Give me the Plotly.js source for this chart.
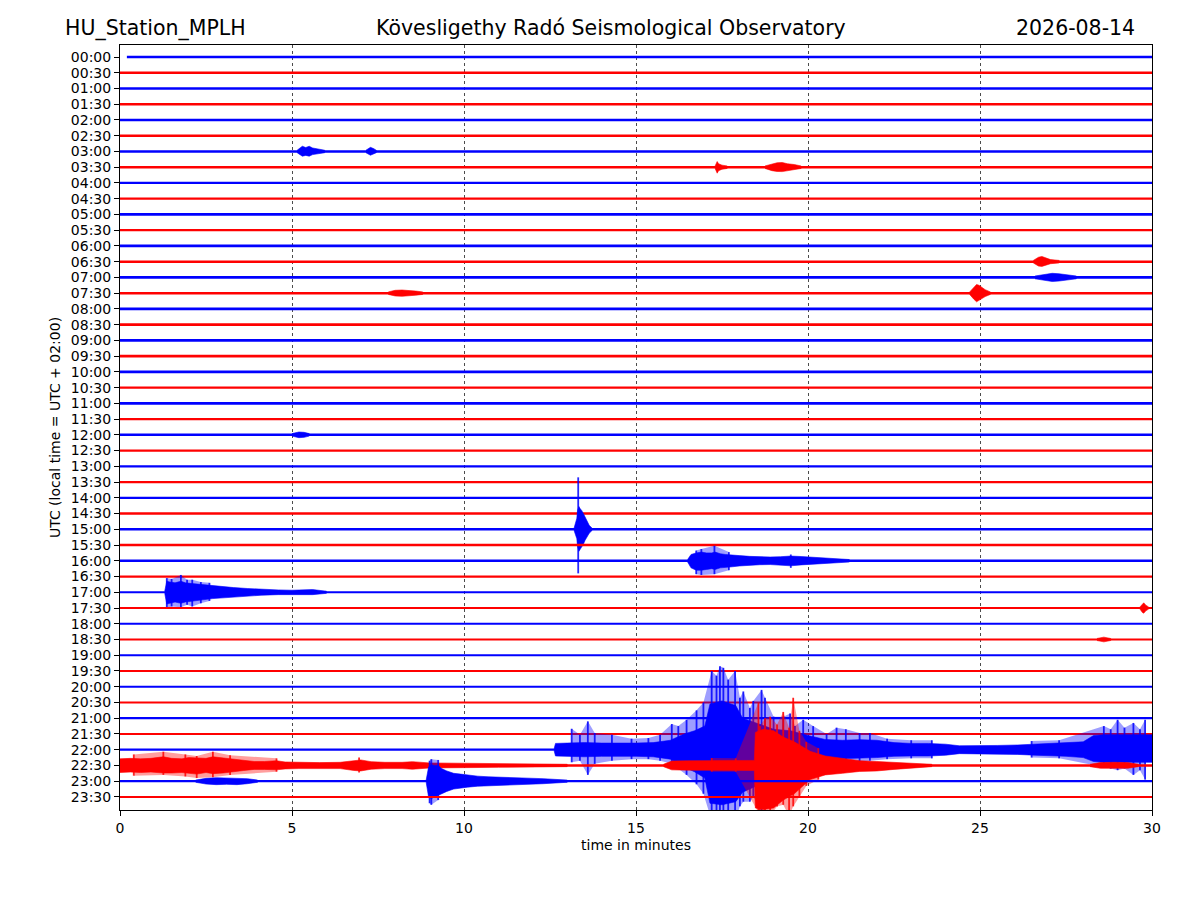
<!DOCTYPE html>
<html>
<head>
<meta charset="utf-8">
<script src="https://cdn.plot.ly/plotly-3.0.1.min.js"></script>
<style>html,body{margin:0;padding:0;background:#fff;}#chart{width:1200px;height:900px;}</style>
</head>
<body>
<div id="chart"></div>
<script>
// ---------------- DATA ----------------
// Row labels (UTC start time of each 30-minute line)
const rowLabels = ["00:00","00:30","01:00","01:30","02:00","02:30","03:00","03:30","04:00","04:30",
  "05:00","05:30","06:00","06:30","07:00","07:30","08:00","08:30","09:00","09:30",
  "10:00","10:30","11:00","11:30","12:00","12:30","13:00","13:30","14:00","14:30",
  "15:00","15:30","16:00","16:30","17:00","17:30","18:00","18:30","19:00","19:30",
  "20:00","20:30","21:00","21:30","22:00","22:30","23:00","23:30"];
// x ticks (minutes)
const xTicks = [0,5,10,15,20,25,30];
// Background noise half-width per line (in units of line spacing)
const noiseAmp = [0.075,0.075,0.075,0.075,0.075,0.075,0.08,0.075,0.075,0.075,
  0.09,0.075,0.09,0.08,0.09,0.08,0.09,0.08,0.09,0.08,
  0.085,0.075,0.085,0.075,0.08,0.07,0.075,0.07,0.075,0.075,
  0.075,0.075,0.075,0.07,0.07,0.07,0.07,0.065,0.065,0.065,
  0.065,0.065,0.07,0.065,0.07,0.075,0.07,0.065];

// Event envelopes (dense part): time (min), upper / lower half-amplitude (line-spacing units)
const r06a_t = [5.15,5.3,5.4,5.5,5.6,5.75,5.95];
const r06a_up = [0.08,0.33,0.25,0.33,0.22,0.15,0.08];
const r06a_dn = [0.08,0.3,0.25,0.3,0.2,0.15,0.08];
const r06b_t = [7.15,7.28,7.35,7.45];
const r06b_up = [0.08,0.26,0.2,0.08];
const r06b_dn = [0.08,0.24,0.2,0.08];

const r07a_t = [17.3,17.36,17.4,17.5,17.65];
const r07a_up = [0.08,0.36,0.22,0.13,0.08];
const r07a_dn = [0.08,0.38,0.22,0.13,0.08];
const r07b_t = [18.75,18.95,19.1,19.25,19.4,19.6,19.8];
const r07b_up = [0.08,0.22,0.28,0.3,0.22,0.17,0.08];
const r07b_dn = [0.08,0.22,0.27,0.28,0.22,0.17,0.08];

const r13_t = [26.55,26.7,26.8,26.9,27.05,27.3];
const r13_up = [0.08,0.28,0.33,0.23,0.13,0.08];
const r13_dn = [0.08,0.28,0.3,0.23,0.13,0.08];

const r14_t = [26.6,26.9,27.1,27.3,27.55,27.8];
const r14_up = [0.09,0.2,0.26,0.23,0.18,0.09];
const r14_dn = [0.09,0.2,0.26,0.23,0.18,0.09];

const r15a_t = [7.8,8.0,8.2,8.4,8.6,8.8];
const r15a_up = [0.08,0.18,0.2,0.18,0.13,0.08];
const r15a_dn = [0.08,0.18,0.2,0.18,0.13,0.08];
const r15b_t = [24.7,24.82,24.9,24.97,25.05,25.15,25.3];
const r15b_up = [0.08,0.4,0.55,0.5,0.35,0.22,0.08];
const r15b_dn = [0.08,0.38,0.55,0.5,0.35,0.22,0.08];

const r24_t = [5.0,5.2,5.35,5.5];
const r24_up = [0.08,0.18,0.16,0.08];
const r24_dn = [0.08,0.18,0.16,0.08];

const r30_t = [13.2,13.28,13.3,13.34,13.38,13.42,13.47,13.52,13.58,13.64,13.72];
const r30_up = [0.08,0.7,1.2,1.45,1.3,1.2,1.0,0.75,0.5,0.25,0.08];
const r30_dn = [0.08,0.6,1.1,1.4,1.3,1.15,0.95,0.7,0.45,0.25,0.08];

const r32_t = [16.5,16.6,16.75,16.9,17.05,17.2,17.3,17.45,17.6,17.8,18.0,18.3,18.6,18.9,19.2,19.5,19.8,20.1,20.4,20.8,21.2];
const r32_up = [0.08,0.4,0.5,0.55,0.5,0.5,0.55,0.45,0.4,0.38,0.33,0.28,0.25,0.24,0.26,0.3,0.27,0.22,0.17,0.12,0.08];
const r32_dn = [0.08,0.45,0.6,0.6,0.55,0.5,0.55,0.45,0.42,0.38,0.33,0.28,0.25,0.24,0.28,0.32,0.26,0.22,0.17,0.12,0.08];

const r34_t = [1.3,1.36,1.45,1.6,1.77,1.9,2.1,2.4,2.7,3.0,3.3,3.7,4.1,4.6,5.0,5.6,6.0];
const r34_up = [0.07,0.7,0.65,0.6,0.7,0.6,0.55,0.48,0.42,0.35,0.3,0.24,0.19,0.15,0.13,0.17,0.07];
const r34_dn = [0.07,0.75,0.7,0.62,0.7,0.62,0.55,0.48,0.4,0.35,0.3,0.24,0.19,0.15,0.13,0.15,0.07];

const r35_t = [29.65,29.72,29.76,29.82,29.9];
const r35_up = [0.07,0.28,0.33,0.18,0.07];
const r35_dn = [0.07,0.28,0.33,0.18,0.07];

const r37_t = [28.4,28.6,28.8];
const r37_up = [0.065,0.15,0.065];
const r37_dn = [0.065,0.15,0.065];

const r44_t = [12.62,12.66,13.0,13.5,14.0,14.5,15.0,15.5,16.0,16.4,16.7,17.0,17.15,17.5,17.9,18.1,18.5,19.0,19.5,20.0,20.5,21.0,21.5,22.0,22.5,23.0,23.5,24.0,24.4,25.0,25.5,26.1,26.6,27.0,27.5,28.0,28.3,28.6,29.0,29.5,30.0];
const r44_up = [0.07,0.4,0.42,0.45,0.42,0.4,0.42,0.45,0.6,1.0,1.2,1.5,2.9,3.1,2.8,2.0,1.7,1.3,1.2,0.9,0.65,0.6,0.64,0.6,0.45,0.4,0.4,0.35,0.25,0.25,0.27,0.3,0.35,0.4,0.42,0.5,0.9,0.95,0.95,0.95,0.95];
const r44_dn = [0.07,0.4,0.42,0.45,0.42,0.4,0.42,0.45,0.6,1.1,1.4,1.8,3.4,3.5,3.3,2.7,2.3,1.8,1.5,0.9,0.6,0.55,0.53,0.5,0.42,0.4,0.4,0.35,0.25,0.25,0.27,0.3,0.35,0.4,0.42,0.5,0.75,0.8,0.8,0.8,0.8];

const r45a_t = [0,0.3,0.6,0.9,1.26,1.5,1.8,2.0,2.23,2.5,2.7,3.0,3.3,3.6,3.9,4.2,4.55,4.8,5.2,5.8,6.4,6.8,7.0,7.3,7.7,8.2,8.5,9.0,10.0,11.0,12.0,13.0];
const r45a_up = [0.42,0.45,0.42,0.45,0.55,0.45,0.42,0.5,0.48,0.45,0.55,0.48,0.42,0.32,0.25,0.25,0.3,0.22,0.2,0.18,0.2,0.32,0.35,0.24,0.2,0.2,0.24,0.16,0.14,0.12,0.12,0.075];
const r45a_dn = [0.45,0.42,0.45,0.42,0.48,0.48,0.45,0.48,0.55,0.45,0.52,0.48,0.42,0.32,0.25,0.25,0.28,0.22,0.2,0.18,0.2,0.32,0.35,0.24,0.2,0.2,0.24,0.16,0.14,0.12,0.12,0.075];
const r45b_t = [15.8,16.04,16.5,17.0,17.5,18.0,18.44,18.47,18.7,19.0,19.28,19.6,20.06,20.5,21.0,21.5,22.0,22.5,23.0,23.6];
const r45b_up = [0.075,0.28,0.3,0.3,0.3,0.3,0.32,2.1,2.3,2.2,1.8,1.5,0.9,0.6,0.45,0.3,0.25,0.2,0.15,0.075];
const r45b_dn = [0.075,0.28,0.3,0.3,0.3,0.3,0.32,2.7,2.8,2.7,2.2,1.8,0.9,0.6,0.5,0.38,0.35,0.25,0.15,0.075];
const r45c_t = [28.2,28.5,28.9,29.3,29.6];
const r45c_up = [0.075,0.18,0.2,0.18,0.075];
const r45c_dn = [0.075,0.18,0.2,0.18,0.075];

const r46a_t = [2.2,2.5,2.8,3.1,3.4,3.7,4.0];
const r46a_up = [0.07,0.18,0.22,0.2,0.22,0.16,0.07];
const r46a_dn = [0.07,0.18,0.22,0.2,0.22,0.16,0.07];
const r46b_t = [8.9,8.97,9.05,9.15,9.25,9.35,9.5,9.7,9.9,10.1,10.4,10.7,11.0,11.4,11.8,12.3,13.0];
const r46b_up = [0.07,0.9,1.05,1.0,1.0,0.8,0.65,0.5,0.45,0.38,0.32,0.28,0.26,0.26,0.2,0.16,0.07];
const r46b_dn = [0.07,1.0,1.1,1.0,0.95,0.8,0.65,0.5,0.42,0.38,0.32,0.28,0.26,0.24,0.2,0.16,0.07];

// Isolated peaks (single swings): time (min), upward / downward reach (line-spacing units)
const p30_t = [13.32];
const p30_up = [3.3];
const p30_dn = [2.8];

const p32_t = [16.75,16.9,17.28,17.7,19.5];
const p32_up = [0.65,0.75,0.95,0.55,0.4];
const p32_dn = [0.85,0.9,0.85,0.6,0.45];

const p34_t = [1.36,1.5,1.77,1.95,2.1,2.35,2.6];
const p34_up = [0.9,0.85,1.1,0.8,0.8,0.65,0.6];
const p34_dn = [1.0,0.9,0.95,0.8,0.9,0.7,0.55];

const p44_t = [13.13,13.37,13.6,13.8,14.3,14.87,15.36,15.7,16.04,16.23,16.47,16.76,16.96,17.2,17.34,17.44,17.54,17.68,17.88,18.02,18.12,18.31,18.41,18.65,18.75,19.0,19.28,19.48,19.62,19.86,20.15,20.54,20.83,21.1,21.5,21.8,22.3,23.0,23.6,26.5,27.3,28.6,28.8,29.0,29.2,29.46,29.65,29.8];
const p44_up = [1.33,0.95,1.8,1.06,0.95,0.7,0.74,0.95,1.63,1.5,1.9,2.5,3.0,5.0,4.7,5.3,5.2,4.45,5.0,3.3,3.7,2.65,3.1,3.8,3.3,2.1,2.1,2.3,1.5,1.9,1.5,1.0,1.4,1.3,1.06,1.06,0.7,0.6,0.6,0.55,0.6,1.5,1.3,1.9,1.4,1.7,1.3,1.9];
const p44_dn = [0.8,0.7,1.6,0.9,0.7,0.6,0.6,0.7,0.9,1.2,1.6,2.2,2.8,4.5,4.5,4.5,4.5,4.5,4.5,3.6,3.3,3.3,3.0,3.9,2.5,2.3,2.0,1.8,1.6,1.5,1.2,0.9,1.0,0.9,0.8,0.7,0.6,0.55,0.55,0.5,0.55,1.1,1.2,1.3,1.2,1.6,1.3,1.9];

const p45_t = [0.4,1.26,1.9,2.23,2.7,3.2,4.55,6.95,17.2,17.9,18.56,18.6,18.75,18.9,19.1,19.28,19.45,19.57,19.75,19.95,20.3];
const p45_up = [0.7,0.87,0.7,0.6,0.87,0.65,0.45,0.5,0.47,0.45,4.0,2.5,3.0,3.1,2.6,3.4,2.4,4.3,2.2,1.5,1.1];
const p45_dn = [0.65,0.6,0.7,0.8,0.75,0.6,0.4,0.45,0.4,0.4,3.0,3.2,3.0,3.2,2.6,2.5,3.2,2.6,2.0,1.3,0.9];

const p46_t = [9.0,9.05,9.25];
const p46_up = [1.3,1.4,1.35];
const p46_dn = [1.4,1.5,1.2];

// -------------- build figure --------------
const events = [
  [6, r06a_t, r06a_up, r06a_dn], [6, r06b_t, r06b_up, r06b_dn],
  [7, r07a_t, r07a_up, r07a_dn], [7, r07b_t, r07b_up, r07b_dn],
  [13, r13_t, r13_up, r13_dn], [14, r14_t, r14_up, r14_dn],
  [15, r15a_t, r15a_up, r15a_dn], [15, r15b_t, r15b_up, r15b_dn],
  [24, r24_t, r24_up, r24_dn], [30, r30_t, r30_up, r30_dn],
  [32, r32_t, r32_up, r32_dn], [34, r34_t, r34_up, r34_dn],
  [35, r35_t, r35_up, r35_dn], [37, r37_t, r37_up, r37_dn],
  [44, r44_t, r44_up, r44_dn],
  [45, r45a_t, r45a_up, r45a_dn], [45, r45b_t, r45b_up, r45b_dn], [45, r45c_t, r45c_up, r45c_dn],
  [46, r46a_t, r46a_up, r46a_dn], [46, r46b_t, r46b_up, r46b_dn]
];
const peaks = [
  [30, p30_t, p30_up, p30_dn], [32, p32_t, p32_up, p32_dn], [34, p34_t, p34_up, p34_dn],
  [44, p44_t, p44_up, p44_dn], [45, p45_t, p45_up, p45_dn], [46, p46_t, p46_up, p46_dn]
];

const W = 1200, H = 900;
const M = {l:120, r:48, t:45, b:90};
const yTop = 0.762, yBot = -47.83;
const rowPx = (H - M.t - M.b) / (yTop - yBot);
const maxGap = 1.5; // minutes: peaks further apart do not share a hull

function lighten(col) { return col === '#0000ff' ? 'rgba(0,0,255,0.38)' : 'rgba(255,0,0,0.38)'; }

function hullGroups(t) {
  const groups = [];
  let cur = [0];
  for (let k = 1; k < t.length; k++) {
    if (t[k] - t[k-1] > maxGap) { groups.push(cur); cur = [k]; }
    else cur.push(k);
  }
  groups.push(cur);
  return groups.filter(g => g.length > 2);
}

const traces = [];
rowLabels.forEach((lab, i) => {
  const col = (i % 2 === 0) ? '#0000ff' : '#ff0000';
  traces.push({
    type:'scatter', mode:'lines', x:[i === 0 ? 0.2 : 0, 30], y:[-i, -i],
    line:{color:col, width: 2*noiseAmp[i]*rowPx}, hoverinfo:'skip'
  });
  // faint outer hull through neighbouring peak swings
  peaks.filter(p => p[0] === i).forEach(p => {
    const t = p[1], up = p[2], dn = p[3];
    hullGroups(t).forEach(g => {
      const xs = g.map(k => t[k]).concat(g.slice().reverse().map(k => t[k]));
      const ys = g.map(k => -i + up[k]).concat(g.slice().reverse().map(k => -i - dn[k]));
      traces.push({
        type:'scatter', mode:'lines', x:xs, y:ys, fill:'toself',
        fillcolor: lighten(col), line:{width:0}, hoverinfo:'skip'
      });
    });
  });
  events.filter(e => e[0] === i).forEach(e => {
    const t = e[1], up = e[2], dn = e[3];
    const xs = t.concat(t.slice().reverse());
    const ys = t.map((_, k) => -i + up[k]).concat(t.map((_, k) => -i - dn[k]).reverse());
    traces.push({
      type:'scatter', mode:'lines', x:xs, y:ys, fill:'toself',
      fillcolor: col, line:{color:col, width:0.6}, hoverinfo:'skip'
    });
  });
  peaks.filter(p => p[0] === i).forEach(p => {
    const t = p[1], up = p[2], dn = p[3];
    const xs = [], ys = [];
    t.forEach((tt, k) => { xs.push(tt, tt, null); ys.push(-i + up[k], -i - dn[k], null); });
    traces.push({
      type:'scatter', mode:'lines', x:xs, y:ys, opacity:0.85,
      line:{color:col, width:1.8}, hoverinfo:'skip', connectgaps:false
    });
  });
});

const font = 'DejaVu Sans, Liberation Sans, sans-serif';
const layout = {
  width: W, height: H, margin: M, showlegend:false,
  paper_bgcolor:'#ffffff', plot_bgcolor:'#ffffff',
  font:{family:font, color:'#000', size:14},
  xaxis:{
    range:[0,30], tickvals:xTicks, ticktext:xTicks.map(String),
    ticks:'outside', ticklen:5, tickwidth:1, tickcolor:'#000',
    showline:true, mirror:true, linecolor:'#000', linewidth:1,
    showgrid:true, gridcolor:'#000', griddash:'dot', gridwidth:0.7,
    zeroline:false, tickfont:{size:14, family:font},
    title:{text:'time in minutes', font:{size:14, family:font}, standoff:5},
    automargin:false
  },
  yaxis:{
    range:[yBot, yTop], tickvals:rowLabels.map((_, i) => -i), ticktext:rowLabels,
    ticks:'outside', ticklen:5, tickwidth:1, tickcolor:'#000',
    showline:true, mirror:true, linecolor:'#000', linewidth:1,
    showgrid:false, zeroline:false, tickfont:{size:14, family:font},
    title:{text:'UTC (local time = UTC + 02:00)', font:{size:14, family:font}, standoff:6},
    automargin:false
  },
  annotations:[
    {text:'HU_Station_MPLH', xref:'paper', yref:'paper', x:(63-120)/1032, y:1+17/765, xanchor:'left', yanchor:'middle', showarrow:false, font:{size:20.5, family:font}},
    {text:'Kövesligethy Radó Seismological Observatory', xref:'paper', yref:'paper', x:(611-120)/1032, y:1+17/765, xanchor:'center', yanchor:'middle', showarrow:false, font:{size:20.5, family:font}},
    {text:'2026-08-14', xref:'paper', yref:'paper', x:(1137-120)/1032, y:1+17/765, xanchor:'right', yanchor:'middle', showarrow:false, font:{size:20.5, family:font}}
  ]
};

Plotly.newPlot('chart', traces, layout, {staticPlot:true, displayModeBar:false});
</script>
</body>
</html>
